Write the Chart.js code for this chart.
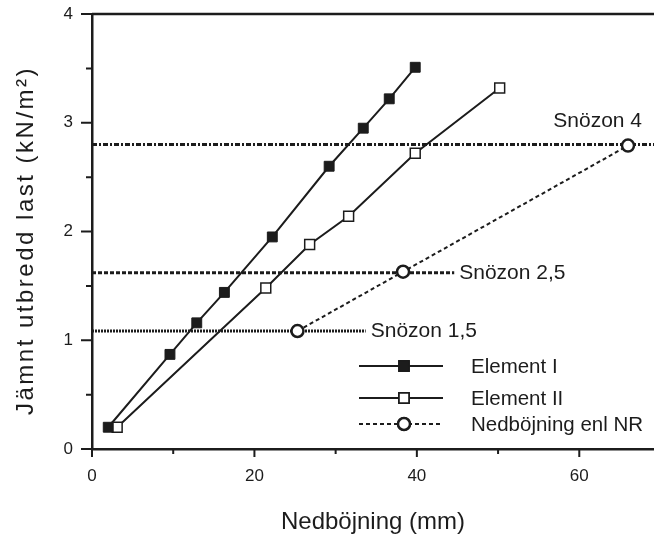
<!DOCTYPE html>
<html>
<head>
<meta charset="utf-8">
<script src="https://cdn.jsdelivr.net/npm/chart.js@4.4.1/dist/chart.umd.min.js"></script>
<style>
  html, body { margin: 0; padding: 0; background: #fff; overflow: hidden; }
  canvas { display: block; }
</style>
</head>
<body>
<canvas id="chart" width="654" height="543"></canvas>
<script>
// values
const seriesNames = ['Element I', 'Element II', 'Nedböjning enl NR'];
const elem1X = [2.0, 9.6, 12.9, 16.3, 22.2, 29.2, 33.4, 36.6, 39.8];
const elem1Y = [0.20, 0.87, 1.16, 1.44, 1.95, 2.60, 2.95, 3.22, 3.51];
const elem2X = [3.1, 21.4, 26.8, 31.6, 39.8, 50.2];
const elem2Y = [0.20, 1.48, 1.88, 2.14, 2.72, 3.32];
const nrX = [25.3, 38.3, 66.0];
const nrY = [1.085, 1.63, 2.79];

const zoneNames = ['Snözon 1,5', 'Snözon 2,5', 'Snözon 4'];
const zoneLoad = [1.085, 1.62, 2.80];
const zoneEndX = [33.7, 44.6, 69.2];

const xMajor = [0, 20, 40, 60];
const xMinor = [10, 30, 50];
const yMajor = [0, 1, 2, 3, 4];
const yMinor = [0.5, 1.5, 2.5, 3.5];

const ink = '#1c1c1c';
const font = "'Liberation Sans', Arial, Helvetica, sans-serif";

function pts(xs, ys) {
    return xs.map((x, i) => ({x: x, y: ys[i]}));
}

const zoneDash = [[2, 1], [4, 2], [5, 2, 2, 2]];

const datasets = [
    {
        label: seriesNames[0], data: pts(elem1X, elem1Y),
        borderColor: ink, borderWidth: 2, pointStyle: 'rect', pointRadius: 7,
        pointBackgroundColor: ink, pointBorderColor: ink, pointBorderWidth: 1, order: 1
    },
    {
        label: seriesNames[1], data: pts(elem2X, elem2Y),
        borderColor: ink, borderWidth: 2, pointStyle: 'rect', pointRadius: 7,
        pointBackgroundColor: '#fff', pointBorderColor: ink, pointBorderWidth: 1.5, order: 1
    },
    {
        label: seriesNames[2], data: pts(nrX, nrY),
        borderColor: ink, borderWidth: 2, borderDash: [4, 3], pointStyle: 'circle', pointRadius: 6,
        pointBackgroundColor: '#fff', pointBorderColor: ink, pointBorderWidth: 2.5, order: 1
    }
];
zoneNames.forEach((name, i) => {
    datasets.push({
        label: name, data: [{x: 0, y: zoneLoad[i]}, {x: zoneEndX[i], y: zoneLoad[i]}],
        borderColor: ink, borderWidth: 3, borderDash: zoneDash[i], pointRadius: 0, order: 5
    });
});

// ticks with two lengths, and the top frame line
const axisTicks = {
    id: 'axisTicks',
    afterDraw(chart) {
        const {ctx, chartArea, scales: {x, y}} = chart;
        ctx.save();
        ctx.strokeStyle = ink;
        ctx.lineWidth = 2;
        ctx.beginPath();
        xMajor.concat(xMinor).forEach(v => {
            const px = x.getPixelForValue(v);
            const len = xMajor.includes(v) ? 8 : 5;
            ctx.moveTo(px, chartArea.bottom);
            ctx.lineTo(px, chartArea.bottom + len);
        });
        yMajor.concat(yMinor).forEach(v => {
            const py = y.getPixelForValue(v);
            const len = yMajor.includes(v) ? 11 : 6;
            ctx.moveTo(chartArea.left, py);
            ctx.lineTo(chartArea.left - len, py);
        });
        ctx.stroke();
        ctx.lineWidth = 2.5;
        ctx.beginPath();
        ctx.moveTo(chartArea.left, chartArea.top);
        ctx.lineTo(chartArea.right, chartArea.top);
        ctx.stroke();
        ctx.restore();
    }
};

// zone labels, legend and y title
const annotations = {
    id: 'annotations',
    afterDraw(chart) {
        const {ctx, chartArea, scales: {x, y}} = chart;
        ctx.save();
        ctx.fillStyle = ink;
        ctx.font = `21px ${font}`;
        ctx.textBaseline = 'middle';
        zoneNames.forEach((name, i) => {
            const py = y.getPixelForValue(zoneLoad[i]);
            if (i === zoneNames.length - 1) {
                ctx.textAlign = 'right';
                ctx.fillText(name, chartArea.right - 12, py - 23);
            } else {
                ctx.textAlign = 'left';
                ctx.fillText(name, x.getPixelForValue(zoneEndX[i]) + 5, py);
            }
        });

        // legend
        const lx0 = 359, lx1 = 443, mx = 404, tx = 471;
        const rows = [366, 398, 424];
        ctx.textAlign = 'left';
        ctx.font = `20.5px ${font}`;
        datasets.slice(0, 3).forEach((ds, i) => {
            const ry = rows[i];
            ctx.strokeStyle = ink;
            ctx.lineWidth = 2;
            ctx.setLineDash(ds.borderDash || []);
            ctx.beginPath();
            ctx.moveTo(lx0, ry);
            ctx.lineTo(lx1, ry);
            ctx.stroke();
            ctx.setLineDash([]);
            Chart.helpers.drawPoint(ctx, {
                pointStyle: ds.pointStyle, radius: ds.pointRadius, rotation: 0,
                borderWidth: ds.pointBorderWidth
            }, mx, ry);
            ctx.fillStyle = ds.pointBackgroundColor;
            ctx.fill();
            ctx.lineWidth = ds.pointBorderWidth;
            ctx.stroke();
            ctx.fillStyle = ink;
            ctx.fillText(ds.label, tx, ry + 1);
        });

        // y axis title
        ctx.translate(33, (chartArea.top + chartArea.bottom) / 2 + 9);
        ctx.rotate(-Math.PI / 2);
        ctx.font = `24px ${font}`;
        ctx.letterSpacing = '2.5px';
        ctx.textAlign = 'center';
        ctx.textBaseline = 'alphabetic';
        ctx.fillText('Jämnt utbredd last (kN/m²)', 0, 0);
        ctx.restore();
    }
};

function noPad(s) {
    s.paddingTop = 0;
    s.paddingBottom = 0;
    s.paddingLeft = 0;
    s.paddingRight = 0;
}

new Chart(document.getElementById('chart'), {
    type: 'line',
    data: {datasets: datasets},
    options: {
        responsive: false,
        animation: false,
        layout: {autoPadding: false, padding: {top: 14, right: 0, left: 0, bottom: 0}},
        plugins: {legend: {display: false}, tooltip: {enabled: false}},
        scales: {
            x: {
                type: 'linear', min: 0, max: 69.2,
                afterBuildTicks: s => { s.ticks = xMajor.map(v => ({value: v})); },
                afterFit: s => { s.height = 94; noPad(s); },
                grid: {drawOnChartArea: false, drawTicks: false},
                border: {color: ink, width: 2.5},
                ticks: {color: ink, font: {family: font, size: 17}, padding: 17, maxRotation: 0},
                title: {display: true, text: 'Nedböjning (mm)', color: ink,
                        font: {family: font, size: 24}, padding: {top: 0, bottom: 6}}
            },
            y: {
                type: 'linear', min: 0, max: 4,
                afterBuildTicks: s => { s.ticks = yMajor.map(v => ({value: v})); },
                afterFit: s => { s.width = 92; noPad(s); },
                grid: {drawOnChartArea: false, drawTicks: false},
                border: {color: ink, width: 2.5},
                ticks: {color: ink, font: {family: font, size: 17}, padding: 19}
            }
        }
    },
    plugins: [axisTicks, annotations]
});
</script>
</body>
</html>
